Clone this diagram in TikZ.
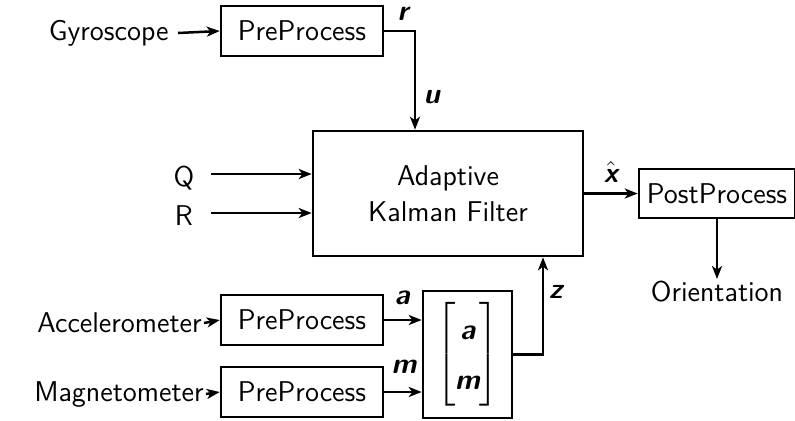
\documentclass[tikz,border=0pt]{standalone}
\usepackage{amsmath}
\usetikzlibrary{arrows.meta}
\renewcommand{\familydefault}{\sfdefault}
\newcommand{\bv}[1]{\text{\bfseries\itshape #1}}
\begin{document}
\begin{tikzpicture}[x=0.5pt,y=-0.5pt,
  font=\fontsize{14.3}{17}\selectfont,
  blk/.style={draw,line width=1.3pt,inner sep=0pt,minimum width=81pt,minimum height=25pt},
  lbl/.style={inner sep=3pt},
  sig/.style={inner sep=0pt},
  conn/.style={line width=1.25pt},
  arr/.style={conn,-{Stealth[length=6.5pt,width=5pt,inset=1.8pt]}}]
\useasboundingbox (0,0) rectangle (795,420);
% blocks
\node[blk] (pre1) at (302,31) {PreProcess};
\node[blk] (pre2) at (302,320) {PreProcess};
\node[blk] (pre3) at (302,392) {PreProcess};
\node[blk,minimum width=135pt,minimum height=62.5pt,align=center] (kf) at (448,193.5) {Adaptive\\[1pt]Kalman Filter};
\node[blk,minimum width=78pt,minimum height=24.5pt] (post) at (717,193.5) {PostProcess};
\node[blk,minimum width=44.5pt,minimum height=63.5pt] (mat) at (467.5,354.5)
  {$\renewcommand{\arraystretch}{1.45}\setlength{\arraycolsep}{1.2pt}\left[\mkern-2mu\begin{array}{c}\bv{a}\\ \bv{m}\end{array}\mkern-2mu\right]$};
% text inputs
\node[lbl,anchor=east,inner sep=4.5pt] (gyro) at (178,33) {Gyroscope};
\node[lbl,anchor=east,inner sep=1pt] (acc) at (204,323) {Accelerometer};
\node[lbl,anchor=east,inner sep=1pt] (mag) at (206,394) {Magnetometer};
\node[lbl] (q) at (184,178) {Q};
\node[lbl] (r) at (184,216) {R};
\node[lbl,anchor=north,inner sep=1pt] (orient) at (717,279) {Orientation};
% coordinates
\coordinate (c1) at (415,31);
\coordinate (c2) at (543,354.5);
\coordinate (qs) at (211,174);
\coordinate (rs) at (211,213);
% connectors
\draw[arr] (gyro.east) -- (pre1.west);
\draw[arr] (pre1.east) -- (c1) -- (c1 |- kf.north);
\draw[arr] (qs) -- (qs -| kf.west);
\draw[arr] (rs) -- (rs -| kf.west);
\draw[arr] (post.west -| kf.east) -- (post.west);
\draw[arr] (post.south) -- (orient.north);
\draw[arr] (acc.east) -- (pre2.west);
\draw[arr] (mag.east) -- (pre3.west);
\draw[arr] (pre2.east) -- (pre2.east -| mat.west);
\draw[arr] (pre3.east) -- (pre3.east -| mat.west);
\draw[arr] (mat.east) -- (c2) -- (c2 |- kf.south);
% signal labels
\node[sig] (lr) at (403,14) {$\bv{r}$};
\node[sig] (lu) at (432,97) {$\bv{u}$};
\node[sig] (lx) at (611,172) {$\hat{\bv{x}}$};
\node[sig] (la) at (402,298) {$\bv{a}$};
\node[sig] (lm) at (404,367) {$\bv{m}$};
\node[sig] (lz) at (556,292) {$\bv{z}$};
\end{tikzpicture}
\end{document}
